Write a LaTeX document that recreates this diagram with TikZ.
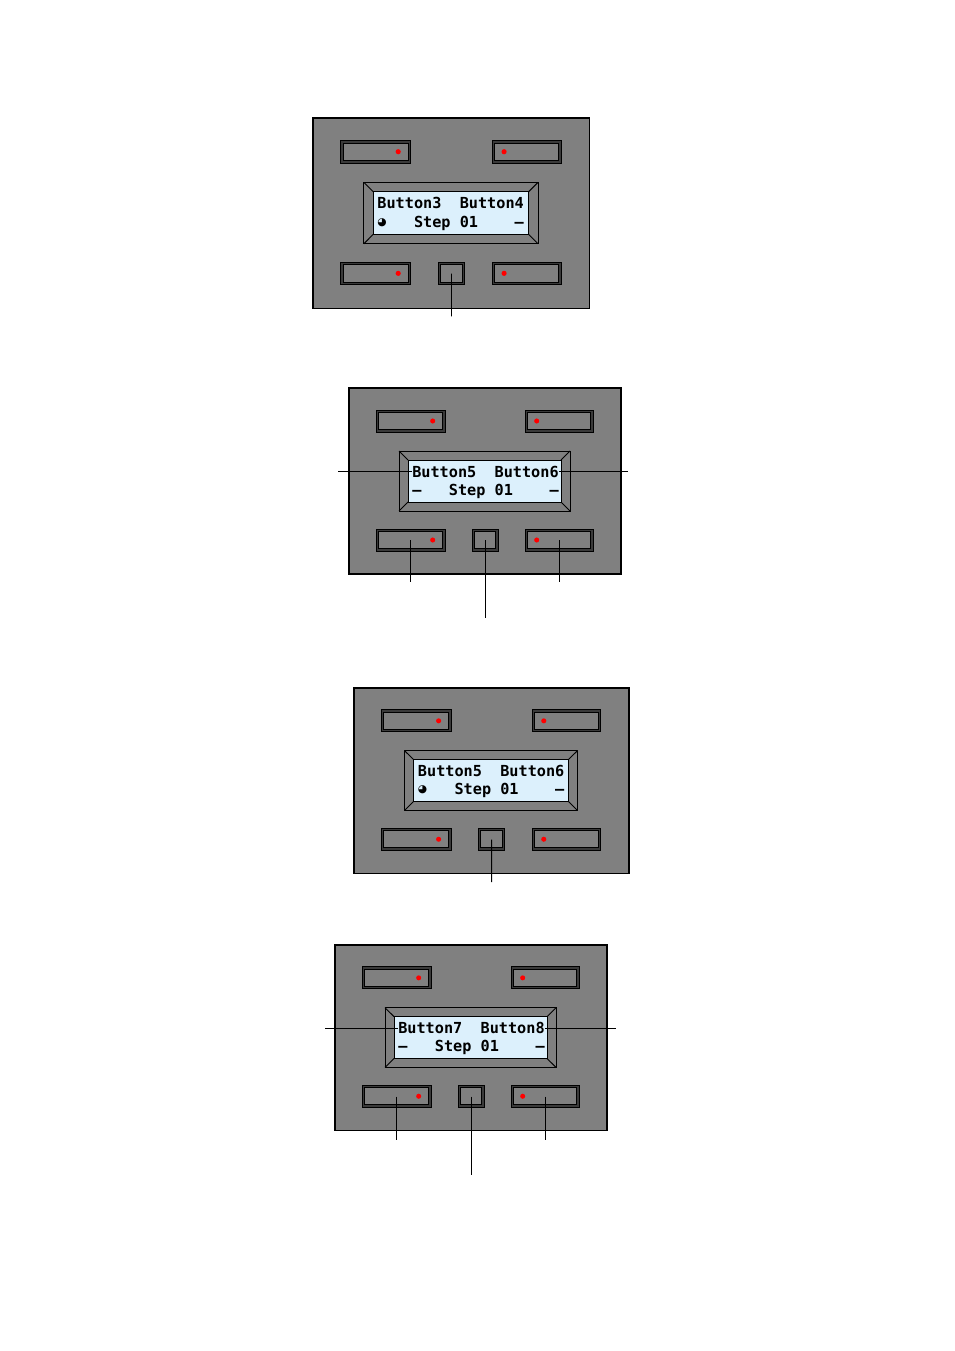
\documentclass[tikz,border=0pt]{standalone}
\usepackage{fontspec}
\newfontfamily\lcdfont{DejaVu Sans Mono}
\newfontfamily\symfont{DejaVu Sans}
\definecolor{panelgray}{RGB}{128,128,128}
\definecolor{btndark}{RGB}{58,58,58}
\definecolor{lcdblue}{RGB}{220,240,252}
\newcommand\clk{\makebox[0.602em][l]{\raisebox{1.2pt}{\symfont\fontsize{8}{8}\selectfont ◕}}}
\tikzset{
  panelbox/.style={draw=black,fill=panelgray,line width=0.8pt},
  btnouter/.style={draw=black,fill=btndark,line width=0.6pt},
  btninner/.style={draw=black,fill=panelgray,line width=0.6pt},
  bezel/.style={draw=black,fill=panelgray,line width=0.7pt},
  screen/.style={draw=black,fill=lcdblue,line width=0.7pt},
  anchornode/.style={inner sep=0pt,minimum size=0pt},
  lcdtext/.style={anchor=base west,inner sep=0pt,text=black,font=\lcdfont\bfseries\fontsize{11.4}{12}\selectfont},
  wire/.style={draw=black,line width=0.7pt},
  led/.style={fill=red}
}
% button: name, x1,y1,x2,y2, led x
\newcommand\ledbtn[6]{%
  \draw[btnouter] (#2,#3) rectangle (#4,#5);
  \draw[btninner] (#2+2.5,#3+2.5) rectangle (#4-2.5,#5-2.5);
  \node[anchornode] (#1) at ({(#2+#4)/2},{(#3+#5)/2}) {};
  \fill[led] (#6,{(#3+#5)/2}) circle (1.9pt);
}
\newcommand\plainbtn[5]{%
  \draw[btnouter] (#2,#3) rectangle (#4,#5);
  \draw[btninner] (#2+2.5,#3+2.5) rectangle (#4-2.5,#5-2.5);
  \node[anchornode] (#1) at ({(#2+#4)/2},{(#3+#5)/2}) {};
}
% panel body: name, line1, line2
\newcommand\panelbody[3]{%
  \draw[panelbox] (0,0) rectangle (272,186);
  \ledbtn{#1tl}{27}{22}{96}{44}{83.7}
  \ledbtn{#1tr}{176}{22}{244}{44}{187.7}
  \ledbtn{#1bl}{27}{141}{96}{163}{83.7}
  \ledbtn{#1br}{176}{141}{244}{163}{187.7}
  \plainbtn{#1c}{123}{141}{149}{163}
  \draw[bezel] (50,63) rectangle (221,123);
  \draw[bezel] (50,63) -- (59,72) (221,63) -- (212,72) (50,123) -- (59,114) (221,123) -- (212,114);
  \draw[screen] (59,72) rectangle (212,114);
  \node[lcdtext] (#1la) at (63,89) {#2};
  \node[lcdtext] (#1lb) at (63,107) {#3};
}
\begin{document}
\begin{tikzpicture}[x=0.75pt,y=-0.75pt]
\useasboundingbox (0,0) rectangle (954,1351);

% Panel 1
\begin{scope}[shift={(313,118)},xscale=1.018,yscale=1.022]
  \panelbody{pa}{Button3~~Button4}{\clk~~~Step~01~~~~–}
  \coordinate (pacend) at (136,194);
  \draw[wire] (pac) -- (pacend);
\end{scope}

% Panel 2
\begin{scope}[shift={(349,388)}]
  \panelbody{pb}{Button5~~Button6}{–~~~Step~01~~~~–}
  \coordinate (pbleft) at (-11,84);
  \coordinate (pbright) at (279,84);
  \coordinate (pbblend) at (61.5,194);
  \coordinate (pbcend) at (136,230);
  \coordinate (pbbrend) at (210,194);
  \draw[wire] (pbla.west) -- (pbla.west -| pbleft);
  \draw[wire] (pbla.east) -- (pbla.east -| pbright);
  \draw[wire] (pbbl) -- (pbblend);
  \draw[wire] (pbc) -- (pbcend);
  \draw[wire] (pbbr) -- (pbbrend);
\end{scope}

% Panel 3
\begin{scope}[shift={(354,688)},xscale=1.011,yscale=0.995]
  \panelbody{pc}{Button5~~Button6}{\clk~~~Step~01~~~~–}
  \coordinate (pccend) at (136,195);
  \draw[wire] (pcc) -- (pccend);
\end{scope}

% Panel 4
\begin{scope}[shift={(335,945)},yscale=0.995]
  \panelbody{pd}{Button7~~Button8}{–~~~Step~01~~~~–}
  \coordinate (pdleft) at (-10,84);
  \coordinate (pdright) at (281,84);
  \coordinate (pdblend) at (61.5,196);
  \coordinate (pdcend) at (136,231);
  \coordinate (pdbrend) at (210,196);
  \draw[wire] (pdla.west) -- (pdla.west -| pdleft);
  \draw[wire] (pdla.east) -- (pdla.east -| pdright);
  \draw[wire] (pdbl) -- (pdblend);
  \draw[wire] (pdc) -- (pdcend);
  \draw[wire] (pdbr) -- (pdbrend);
\end{scope}
\end{tikzpicture}
\end{document}
